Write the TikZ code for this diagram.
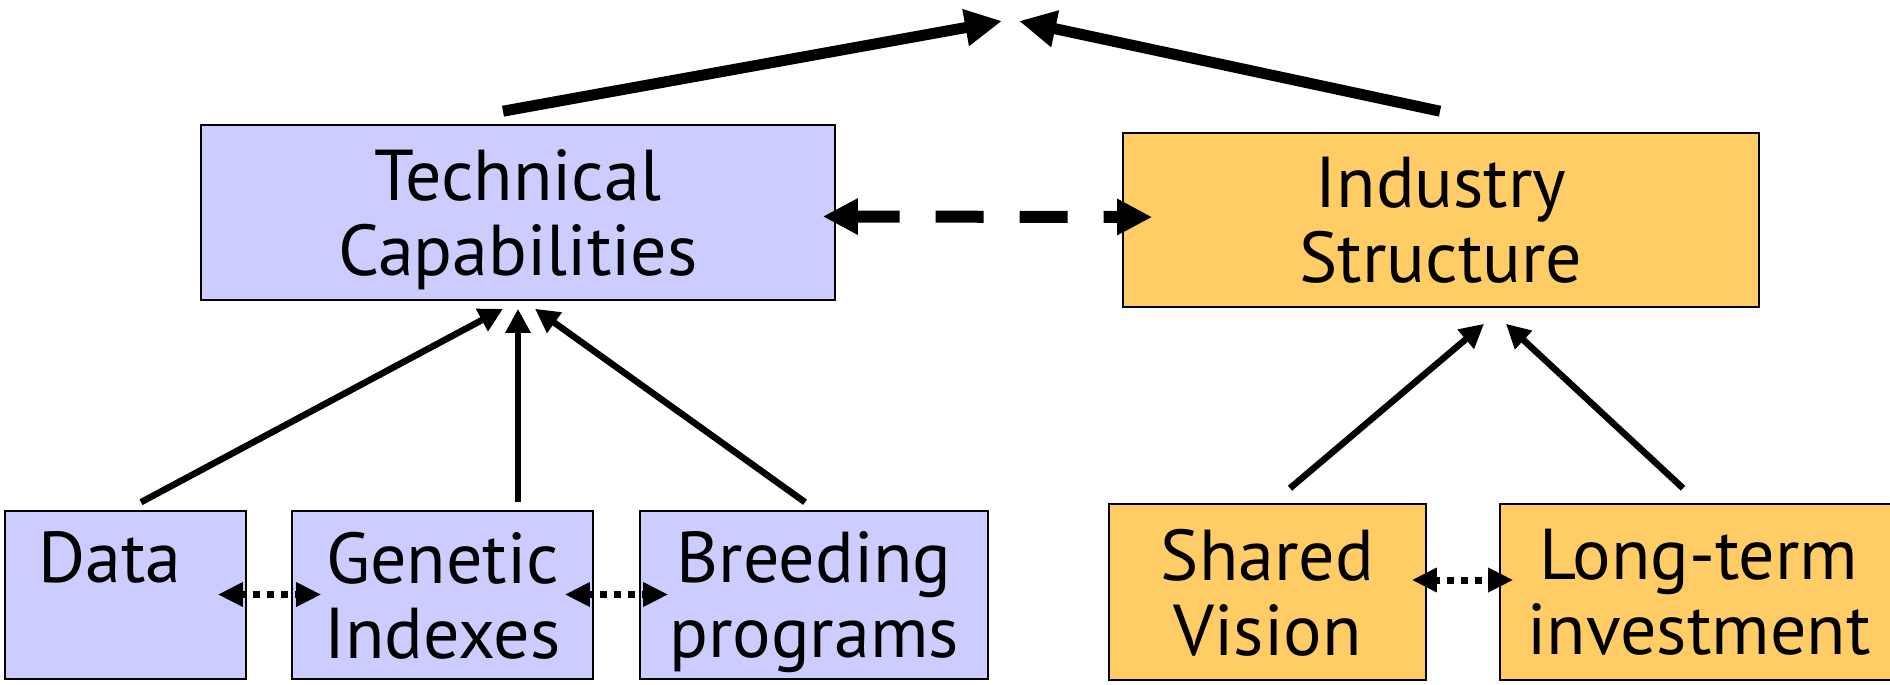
\documentclass[tikz,border=0pt]{standalone}
\usepackage{fontspec}
\setmainfont{PT Sans}
\usetikzlibrary{arrows.meta}
\definecolor{techblue}{HTML}{CCCCFF}
\definecolor{indorange}{HTML}{FFCC66}
\begin{document}
\begin{tikzpicture}[x=0.5pt,y=-0.5pt,
  box/.style={draw=black,line width=0.8pt,inner sep=0pt,align=center,text depth=0pt,
    font=\fontsize{36}{37.5}\selectfont},
  bluebox/.style={box,fill=techblue},
  orangebox/.style={box,fill=indorange},
  bigarrow/.style={line width=5.5pt,-{Triangle[length=18.5pt,width=17.5pt]}},
  dasharrow/.style={line width=6pt,{Triangle[length=17.5pt,width=17pt]}-{Triangle[length=17.5pt,width=17pt]},
    dash pattern=on 24pt off 18pt,dash phase=2pt},
  thinarrow/.style={line width=3.25pt,-{Triangle[length=12pt,width=12pt]}},
  dotarrow/.style={line width=3.5pt,{Triangle[length=12.5pt,width=11.5pt]}-{Triangle[length=12.5pt,width=11.5pt]},
    dash pattern=on 3.5pt off 3.5pt,dash phase=1pt}]
\useasboundingbox (0,0) rectangle (1890,685);
\clip (0,0) rectangle (1890,685);
\fill[white] (0,0) rectangle (1890,685);
% top boxes
\node[bluebox,minimum width=317pt,minimum height=87.5pt] (tech) at (518,212.5) {Technical\\Capabilities};
\node[orangebox,minimum width=318pt,minimum height=87pt] (industry) at (1441,220) {Industry\\Structure};
% bottom boxes
\node[bluebox,minimum width=120.5pt,minimum height=84pt] (data) at (125.5,595) {Data\hspace*{15.5pt}\\\mbox{}};
\node[bluebox,minimum width=150.5pt,minimum height=84pt] (genetic) at (442.5,595) {Genetic\\Indexes};
\node[bluebox,minimum width=174pt,minimum height=84pt] (breeding) at (814,595) {Breeding\\programs};
\node[orangebox,minimum width=158.5pt,minimum height=88pt] (shared) at (1267.5,592) {Shared\\Vision};
\node[orangebox,minimum width=199pt,minimum height=88pt] (longterm) at (1699,592) {Long-term\\investment};
% apex
\coordinate (apexL) at (1002,21);
\coordinate (apexR) at (1019,21);
\draw[bigarrow] ([xshift=-7.5pt,yshift=6.5pt]tech.north) -- (apexL);
\draw[bigarrow] ([xshift=-0.5pt,yshift=10.5pt]industry.north) -- (apexR);
% dashed link
\draw[dasharrow,shorten <=-6.5pt,shorten >=-15pt] ([yshift=-2pt]tech.east) -- ([yshift=1.5pt]industry.west);
% arrows up to tech
\draw[thinarrow] ([xshift=7.75pt,yshift=4pt]data.north) -- ([xshift=-7.5pt,yshift=-4pt]tech.south);
\draw[thinarrow,shorten <=4pt,shorten >=4pt] (tech.south |- genetic.north) -- (tech.south);
\draw[thinarrow] ([xshift=-4.5pt,yshift=4pt]breeding.north) -- ([xshift=8.5pt,yshift=-4pt]tech.south);
% arrows up to industry
\draw[thinarrow] ([xshift=11.25pt,yshift=7.5pt]shared.north) -- ([xshift=21.5pt,yshift=-8pt]industry.south);
\draw[thinarrow] ([xshift=-8pt,yshift=7.5pt]longterm.north) -- ([xshift=32.5pt,yshift=-8pt]industry.south);
% dotted links
\draw[dotarrow,shorten <=-14.5pt,shorten >=-15pt] ([yshift=0.25pt]data.east) -- ([yshift=0.25pt]genetic.west);
\draw[dotarrow,shorten <=-14.5pt,shorten >=-14.5pt] ([yshift=0.25pt]genetic.east) -- ([yshift=0.25pt]breeding.west);
\draw[dotarrow,shorten <=-7.5pt,shorten >=-7pt] ([yshift=6pt]shared.east) -- ([yshift=6pt]longterm.west);
\end{tikzpicture}
\end{document}
